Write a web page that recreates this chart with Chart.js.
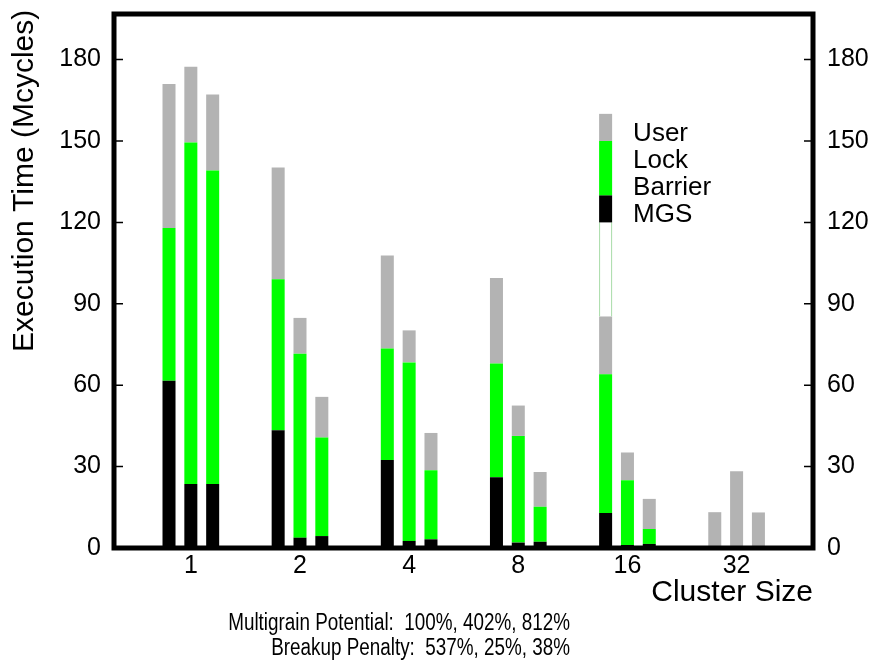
<!DOCTYPE html>
<html>
<head>
<meta charset="utf-8">
<script src="https://cdn.jsdelivr.net/npm/chart.js@4"></script>
<style>
  html, body { margin: 0; padding: 0; background: #fff; }
</style>
</head>
<body>
<canvas id="chart" width="875" height="666"></canvas>
<script>
// cluster sizes along the x axis, y tick values
var clusterSizes = ['1', '2', '4', '8', '16', '32'];
var yTicks = [0, 30, 60, 90, 120, 150, 180];

// three bars for each cluster size, stacked MGS / Lock / User (Mcycles)
var mgs1 = [61.6, 43.4, 32.4, 26.1, 12.9, 0];
var lock1 = [56.3, 55.6, 41.1, 41.9, 51.1, 0];
var user1 = [53.1, 41.2, 34.3, 31.5, 21.4, 13.2];

var mgs2 = [23.6, 3.8, 2.6, 2.0, 1.1, 0];
var lock2 = [125.8, 67.8, 65.8, 39.3, 23.9, 0];
var user2 = [28.0, 13.2, 11.8, 11.2, 10.2, 28.3];

var mgs3 = [23.6, 4.4, 3.2, 2.3, 1.5, 0];
var lock3 = [115.5, 36.3, 25.5, 12.9, 5.5, 0];
var user3 = [28.0, 15.0, 13.7, 12.8, 11.1, 13.1];

var legendLabels = ['User', 'Lock', 'Barrier', 'MGS'];
var notes = ['Multigrain Potential:  100%, 402%, 812%', 'Breakup Penalty:  537%, 25%, 38%'];

var BLACK = '#000000', GREEN = '#00ff00', GRAY = '#b3b3b3';
var FONT = "'Liberation Sans', Arial, Helvetica, sans-serif";

function pts(arr) {
  return arr.map(function(v, i) { return {x: i, y: v}; });
}
function ds(label, arr, color, stack) {
  return {label: label, data: pts(arr), backgroundColor: color, stack: stack, borderWidth: 0};
}

// frame, inward ticks, legend and texts
var decor = {
  id: 'decor',
  afterDraw: function(chart) {
    var ctx = chart.ctx, a = chart.chartArea, y = chart.scales.y;
    ctx.save();

    // legend drawn as a stack on top of the first 16 bar
    var bar = chart.getDatasetMeta(2).data[4];
    var bl = bar.x - bar.width / 2, bw = bar.width;
    var p120 = y.getPixelForValue(120), p130 = y.getPixelForValue(130);
    var p150 = y.getPixelForValue(150), p160 = y.getPixelForValue(160);
    ctx.fillStyle = '#ffffff';
    ctx.fillRect(bl, p120, bw, bar.y - p120);
    ctx.strokeStyle = '#a8dca8';
    ctx.lineWidth = 1;
    ctx.beginPath();
    ctx.moveTo(bl + 0.5, p120); ctx.lineTo(bl + 0.5, bar.y);
    ctx.moveTo(bl + bw - 0.5, p120); ctx.lineTo(bl + bw - 0.5, bar.y);
    ctx.stroke();
    ctx.fillStyle = BLACK; ctx.fillRect(bl, p130, bw, p120 - p130);
    ctx.fillStyle = GREEN; ctx.fillRect(bl, p150, bw, p130 - p150);
    ctx.fillStyle = GRAY; ctx.fillRect(bl, p160, bw, p150 - p160);

    ctx.fillStyle = '#000';
    ctx.font = '26px ' + FONT;
    ctx.textAlign = 'left';
    ctx.textBaseline = 'alphabetic';
    legendLabels.forEach(function(t, i) {
      ctx.fillText(t, bl + bw + 21, p150 + i * 27);
    });

    // frame
    ctx.strokeStyle = '#000';
    ctx.lineWidth = 5;
    ctx.strokeRect(a.left, a.top, a.right - a.left, a.bottom - a.top);

    // inward y ticks on both sides
    ctx.lineWidth = 1.5;
    ctx.beginPath();
    yTicks.forEach(function(v) {
      var py = y.getPixelForValue(v);
      ctx.moveTo(a.left + 2, py); ctx.lineTo(a.left + 9, py);
      ctx.moveTo(a.right - 2, py); ctx.lineTo(a.right - 9, py);
    });
    ctx.stroke();

    // axis titles
    ctx.font = '30px ' + FONT;
    ctx.save();
    ctx.translate(33, 352);
    ctx.rotate(-Math.PI / 2);
    ctx.textAlign = 'left';
    ctx.fillText('Execution Time (Mcycles)', 0, 0);
    ctx.restore();
    ctx.textAlign = 'right';
    ctx.fillText('Cluster Size', a.right, 601);

    // notes under the chart, a narrow face
    ctx.font = '23px ' + FONT;
    notes.forEach(function(t, i) {
      ctx.save();
      ctx.translate(570, 629.5 + i * 25);
      ctx.scale(0.82, 1);
      ctx.fillText(t, 0, 0);
      ctx.restore();
    });
    ctx.restore();
  }
};

var chart = new Chart('chart', {
  type: 'bar',
  data: {
    datasets: [
      ds('MGS', mgs1, BLACK, 'b1'), ds('Lock', lock1, GREEN, 'b1'), ds('User', user1, GRAY, 'b1'),
      ds('MGS', mgs2, BLACK, 'b2'), ds('Lock', lock2, GREEN, 'b2'), ds('User', user2, GRAY, 'b2'),
      ds('MGS', mgs3, BLACK, 'b3'), ds('Lock', lock3, GREEN, 'b3'), ds('User', user3, GRAY, 'b3')
    ]
  },
  options: {
    responsive: false,
    animation: false,
    devicePixelRatio: 1,
    categoryPercentage: 0.6,
    barPercentage: 0.596,
    layout: {padding: {top: 14, left: 0, right: 0, bottom: 0}},
    plugins: {legend: {display: false}, tooltip: {enabled: false}},
    scales: {
      x: {
        type: 'linear',
        offset: false,
        min: -0.704,
        max: 5.70,
        grid: {display: false, offset: false},
        border: {display: false},
        afterBuildTicks: function(s) {
          s.ticks = clusterSizes.map(function(c, i) { return {value: i}; });
        },
        afterFit: function(s) { s.height = 118; s.paddingLeft = 0; s.paddingRight = 0; },
        ticks: {
          padding: -5,
          color: '#000',
          font: {family: FONT, size: 25},
          maxRotation: 0,
          callback: function(v, i) { return clusterSizes[i]; }
        }
      },
      y: {
        position: 'left',
        stacked: true,
        min: 0,
        max: 196.8,
        grid: {display: false, drawTicks: false},
        border: {display: false},
        afterBuildTicks: function(s) {
          s.ticks = yTicks.map(function(v) { return {value: v}; });
        },
        afterFit: function(s) { s.width = 114; s.paddingTop = 0; s.paddingBottom = 0; },
        ticks: {padding: 13, color: '#000', font: {family: FONT, size: 25}}
      },
      y2: {
        position: 'right',
        min: 0,
        max: 196.8,
        grid: {display: false, drawTicks: false},
        border: {display: false},
        afterBuildTicks: function(s) {
          s.ticks = yTicks.map(function(v) { return {value: v}; });
        },
        afterFit: function(s) { s.width = 62; s.paddingTop = 0; s.paddingBottom = 0; },
        ticks: {padding: 14, color: '#000', font: {family: FONT, size: 25}}
      }
    }
  },
  plugins: [decor]
});
</script>
</body>
</html>
